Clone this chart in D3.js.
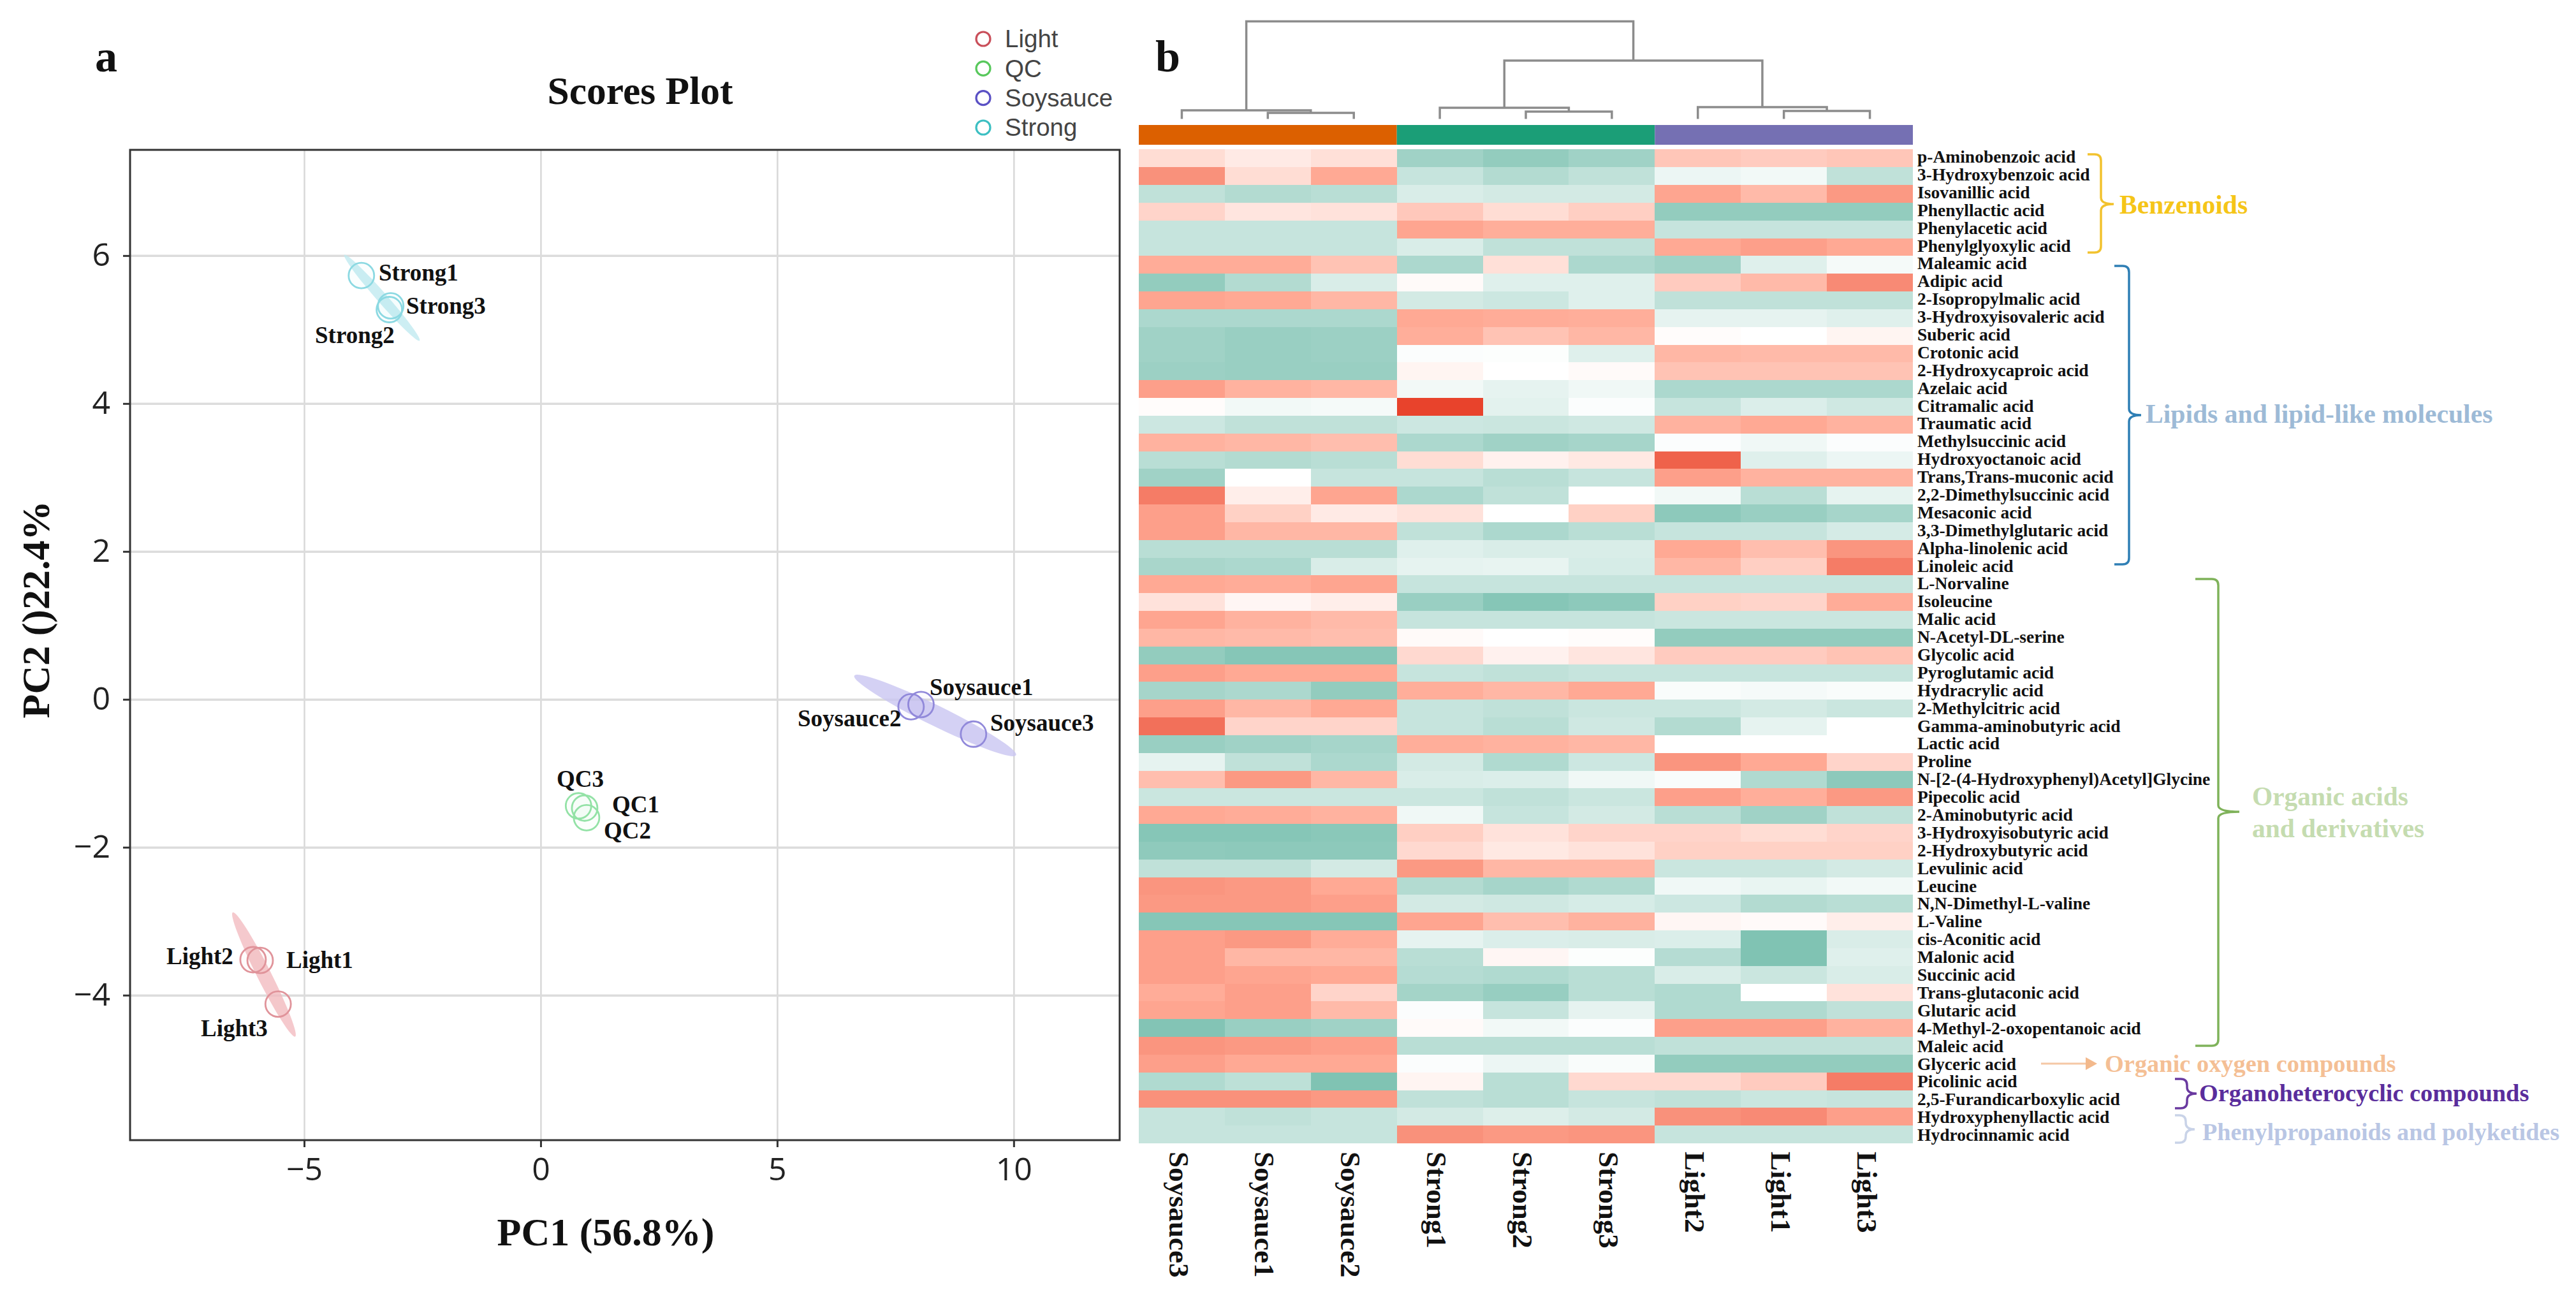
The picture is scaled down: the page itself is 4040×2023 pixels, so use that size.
<!DOCTYPE html>
<html>
  <head>
    <meta charset="utf-8">
    <style>
      body { margin: 0; background: #fff; }
      text { font-family: "Liberation Serif", serif; font-weight: bold; fill: #111; }
      .tick text { font-family: "Open Sans", sans-serif; font-weight: normal; font-size: 50px; fill: #222; }
      .legend text { font-family: "Liberation Sans", Arial, sans-serif; font-weight: normal; font-size: 38.5px; fill: #444; }
    </style>
  </head>
  <body>
    <script src="https://d3js.org/d3.v7.min.js"></script>
    <script>
      // ---- panel a data
      const groups = ['Light', 'QC', 'Soysauce', 'Strong'];
      const sampleNames = ['Light1', 'Light2', 'Light3', 'QC1', 'QC2', 'QC3', 'Soysauce1', 'Soysauce2', 'Soysauce3', 'Strong1', 'Strong2', 'Strong3'];
      const sampleGroups = ['Light', 'Light', 'Light', 'QC', 'QC', 'QC', 'Soysauce', 'Soysauce', 'Soysauce', 'Strong', 'Strong', 'Strong'];
      const pc1 = [-5.93, -6.08, -5.55, 0.93, 0.97, 0.80, 8.04, 7.83, 9.15, -3.79, -3.20, -3.17];
      const pc2 = [-3.53, -3.52, -4.12, -1.47, -1.60, -1.44, -0.07, -0.10, -0.47, 5.73, 5.27, 5.32];
      // long axis ends of the confidence ellipses
      const ellipseGroups = ['Light', 'Soysauce', 'Strong'];
      const ellipseX1 = [-6.51, 6.63, -4.15];
      const ellipseY1 = [-2.88, 0.32, 6.01];
      const ellipseX2 = [-5.19, 10.05, -2.56];
      const ellipseY2 = [-4.56, -0.755, 4.85];
      const xTicks = [-5, 0, 5, 10];
      const yTicks = [-4, -2, 0, 2, 4, 6];

      // ---- panel b data
      const columns = ['Soysauce3', 'Soysauce1', 'Soysauce2', 'Strong1', 'Strong2', 'Strong3', 'Light2', 'Light1', 'Light3'];
      const columnGroups = ['Soysauce', 'Strong', 'Light'];
      const metabolites = [
        'p-Aminobenzoic acid', '3-Hydroxybenzoic acid', 'Isovanillic acid', 'Phenyllactic acid', 'Phenylacetic acid',
        'Phenylglyoxylic acid', 'Maleamic acid', 'Adipic acid', '2-Isopropylmalic acid', '3-Hydroxyisovaleric acid',
        'Suberic acid', 'Crotonic acid', '2-Hydroxycaproic acid', 'Azelaic acid', 'Citramalic acid', 'Traumatic acid',
        'Methylsuccinic acid', 'Hydroxyoctanoic acid', 'Trans,Trans-muconic acid', '2,2-Dimethylsuccinic acid',
        'Mesaconic acid', '3,3-Dimethylglutaric acid', 'Alpha-linolenic acid', 'Linoleic acid', 'L-Norvaline',
        'Isoleucine', 'Malic acid', 'N-Acetyl-DL-serine', 'Glycolic acid', 'Pyroglutamic acid', 'Hydracrylic acid',
        '2-Methylcitric acid', 'Gamma-aminobutyric acid', 'Lactic acid', 'Proline',
        'N-[2-(4-Hydroxyphenyl)Acetyl]Glycine', 'Pipecolic acid', '2-Aminobutyric acid', '3-Hydroxyisobutyric acid',
        '2-Hydroxybutyric acid', 'Levulinic acid', 'Leucine', 'N,N-Dimethyl-L-valine', 'L-Valine', 'cis-Aconitic acid',
        'Malonic acid', 'Succinic acid', 'Trans-glutaconic acid', 'Glutaric acid', '4-Methyl-2-oxopentanoic acid',
        'Maleic acid', 'Glyceric acid', 'Picolinic acid', '2,5-Furandicarboxylic acid', 'Hydroxyphenyllactic acid',
        'Hydrocinnamic acid'
      ];
      // one row per metabolite, same order as columns
      const heat = [
        [.2, .12, .18, -.75, -.85, -.75, .33, .3, .33],
        [.62, .2, .5, -.45, -.6, -.5, -.15, -.1, -.5],
        [-.5, -.6, -.55, -.3, -.35, -.35, .52, .4, .58],
        [.25, .15, .17, .32, .2, .28, -.85, -.85, -.85],
        [-.45, -.45, -.45, .52, .47, .47, -.45, -.45, -.45],
        [-.45, -.45, -.45, -.3, -.5, -.5, .5, .55, .5],
        [.48, .48, .35, -.65, .18, -.65, -.75, -.25, -.08],
        [-.85, -.6, -.3, .03, -.25, -.25, .3, .4, .65],
        [.52, .5, .42, -.35, -.4, -.25, -.5, -.5, -.5],
        [-.65, -.65, -.65, .5, .48, .47, -.2, -.2, -.25],
        [-.75, -.8, -.78, .47, .35, .42, .02, 0, .06],
        [-.75, -.8, -.78, -.03, -.02, -.25, .42, .4, .4],
        [-.78, -.8, -.8, .06, 0, .03, .35, .35, .35],
        [.55, .45, .42, -.1, -.2, -.12, -.65, -.65, -.65],
        [.02, -.1, -.08, 1, -.22, -.03, -.45, -.28, -.38],
        [-.4, -.5, -.5, -.4, -.42, -.38, .45, .5, .45],
        [.45, .42, .38, -.65, -.75, -.7, -.03, -.12, -.03],
        [-.55, -.6, -.55, .2, .08, .13, .85, -.25, -.15],
        [-.75, 0, -.45, -.45, -.55, -.45, .55, .45, .45],
        [.72, .1, .52, -.65, -.5, 0, -.1, -.55, -.2],
        [.55, .27, .12, .17, 0, .27, -.9, -.8, -.7],
        [.55, .42, .42, -.5, -.65, -.55, -.45, -.45, -.33],
        [-.55, -.55, -.55, -.25, -.3, -.3, .5, .38, .6],
        [-.68, -.65, -.3, -.2, -.18, -.32, .42, .28, .72],
        [.5, .48, .52, -.45, -.45, -.45, -.45, -.45, -.45],
        [.17, .05, .1, -.8, -.95, -.9, .27, .25, .48],
        [.52, .45, .4, -.45, -.45, -.45, -.42, -.42, -.42],
        [.42, .4, .38, .03, 0, .02, -.85, -.85, -.85],
        [-.85, -.95, -.95, .22, .08, .15, .3, .3, .35],
        [.55, .5, .5, -.45, -.5, -.45, -.45, -.45, -.45],
        [-.7, -.65, -.85, .47, .42, .5, -.05, -.08, -.05],
        [.55, .42, .5, -.45, -.5, -.42, -.42, -.35, -.42],
        [.78, .25, .25, -.45, -.55, -.38, -.6, -.2, 0],
        [-.8, -.75, -.7, .47, .45, .42, 0, 0, 0],
        [-.2, -.5, -.65, -.35, -.62, -.4, .6, .5, .25],
        [.38, .58, .42, -.3, -.28, -.12, -.05, -.62, -.9],
        [-.42, -.42, -.42, -.42, -.5, -.42, .55, .47, .58],
        [.5, .48, .45, -.12, -.45, -.35, -.55, -.75, -.5],
        [-.95, -.95, -.92, .28, .17, .25, .25, .2, .25],
        [-.88, -.9, -.9, .22, .13, .17, .27, .27, .27],
        [-.5, -.5, -.35, .58, .42, .42, -.42, -.42, -.35],
        [.6, .58, .5, -.6, -.7, -.62, -.12, -.17, -.1],
        [.58, .58, .55, -.35, -.38, -.32, -.4, -.6, -.55],
        [-.95, -.95, -.95, .52, .38, .45, .05, .03, .1],
        [.55, .58, .48, -.2, -.28, -.3, -.28, -1, -.3],
        [.55, .42, .42, -.55, .05, -.02, -.58, -1, -.25],
        [.55, .52, .5, -.58, -.62, -.55, -.3, -.42, -.3],
        [.48, .55, .25, -.72, -.82, -.55, -.62, 0, .17],
        [.52, .55, .4, -.03, -.45, -.2, -.62, -.62, -.5],
        [-.98, -.8, -.75, .03, -.1, -.03, .55, .55, .45],
        [.6, .58, .55, -.55, -.55, -.55, -.5, -.5, -.5],
        [.55, .5, .5, -.03, -.15, -.05, -.85, -.85, -.85],
        [-.62, -.52, -1, .06, -.55, .22, .22, .3, .72],
        [.62, .62, .58, -.5, -.55, -.45, -.5, -.42, -.45],
        [-.45, -.5, -.45, -.35, -.27, -.35, .62, .65, .55],
        [-.45, -.45, -.45, .62, .58, .6, -.45, -.45, -.45]
      ];
      // dendrogram: merges with their distance, leaves by column name
      const tree = { d: 10, kids: [
        { d: .88, kids: ['Soysauce3', { d: .62, kids: ['Soysauce1', 'Soysauce2'] }] },
        { d: 5.98, kids: [
          { d: 1.14, kids: ['Strong1', { d: .75, kids: ['Strong2', 'Strong3'] }] },
          { d: 1.21, kids: ['Light2', { d: .82, kids: ['Light1', 'Light3'] }] }
        ] }
      ] };

      // ---- styles and layout
      const strokeColor = { Light: '#c94f5a', QC: '#58c85c', Soysauce: '#5a50c4', Strong: '#3cbfc2' };
      const pointColor = { Light: '#e0939a', QC: '#93e2a6', Soysauce: '#9189da', Strong: '#8cd9e2' };
      const ellipseColor = { Light: '#f3bcc0', Soysauce: '#c9c6f1', Strong: '#c0eaf0' };
      const ellipseHalf = { Light: 11, Soysauce: 16, Strong: 8 };
      const barColor = { Soysauce: '#dc6000', Strong: '#1b9e77', Light: '#7570b3' };
      const labelPos = {
        Strong1: [594, 428], Strong3: [637, 480], Strong2: [494, 526],
        Soysauce1: [1458, 1078], Soysauce2: [1251, 1127], Soysauce3: [1553, 1134],
        QC3: [873, 1222], QC1: [960, 1262], QC2: [947, 1303],
        Light2: [261, 1500], Light1: [449, 1506], Light3: [315, 1613]
      };

      const svg = d3.select('body').append('svg')
        .attr('width', 4040)
        .attr('height', 2023);

      // ---- panel a
      const plot = { left: 204, right: 1756, top: 235, bottom: 1788 };
      const x = d3.scaleLinear().domain([-8.68, 12.24]).range([plot.left, plot.right]);
      const y = d3.scaleLinear().domain([-5.96, 7.43]).range([plot.bottom, plot.top]);

      const gridX = svg.append('g')
        .attr('transform', `translate(0,${plot.bottom})`)
        .call(d3.axisBottom(x).tickValues(xTicks).tickSize(-(plot.bottom - plot.top)).tickFormat(''));
      const gridY = svg.append('g')
        .attr('transform', `translate(${plot.left},0)`)
        .call(d3.axisLeft(y).tickValues(yTicks).tickSize(-(plot.right - plot.left)).tickFormat(''));
      gridX.select('.domain').remove();
      gridY.select('.domain').remove();
      gridX.selectAll('line').attr('stroke', '#d8d8d8').attr('stroke-width', 2.5);
      gridY.selectAll('line').attr('stroke', '#dcdcdc').attr('stroke-width', 3.5);

      // long thin ellipses
      svg.append('g').selectAll('path')
        .data(ellipseGroups)
        .join('path')
        .attr('fill', d => ellipseColor[d])
        .attr('fill-opacity', 0.8)
        .attr('d', (d, i) => {
          const x1 = x(ellipseX1[i]), y1 = y(ellipseY1[i]), x2 = x(ellipseX2[i]), y2 = y(ellipseY2[i]);
          const rx = Math.hypot(x2 - x1, y2 - y1) / 2;
          const a = Math.atan2(y2 - y1, x2 - x1) * 180 / Math.PI;
          const ry = ellipseHalf[d];
          return `M${x1},${y1}A${rx},${ry} ${a} 1 1 ${x2},${y2}A${rx},${ry} ${a} 1 1 ${x1},${y1}Z`;
        });

      svg.append('g').selectAll('circle')
        .data(sampleNames)
        .join('circle')
        .attr('cx', (d, i) => x(pc1[i]))
        .attr('cy', (d, i) => y(pc2[i]))
        .attr('r', 20)
        .attr('fill', (d, i) => pointColor[sampleGroups[i]])
        .attr('fill-opacity', 0.04)
        .attr('stroke', (d, i) => pointColor[sampleGroups[i]])
        .attr('stroke-width', 2.8);

      svg.append('g').selectAll('text')
        .data(sampleNames)
        .join('text')
        .attr('x', d => labelPos[d][0])
        .attr('y', d => labelPos[d][1])
        .attr('dy', '.33em')
        .attr('font-size', 37)
        .text(d => d);

      svg.append('rect')
        .attr('x', plot.left)
        .attr('y', plot.top)
        .attr('width', plot.right - plot.left)
        .attr('height', plot.bottom - plot.top)
        .attr('fill', 'none')
        .attr('stroke', '#333')
        .attr('stroke-width', 3);

      const xAxis = svg.append('g')
        .attr('transform', `translate(0,${plot.bottom})`)
        .call(d3.axisBottom(x).tickValues(xTicks).tickSize(11).tickPadding(16));
      const yAxis = svg.append('g')
        .attr('transform', `translate(${plot.left},0)`)
        .call(d3.axisLeft(y).tickValues(yTicks).tickSize(11).tickPadding(20));
      xAxis.select('.domain').remove();
      yAxis.select('.domain').remove();
      xAxis.selectAll('line').attr('stroke', '#333').attr('stroke-width', 3);
      yAxis.selectAll('line').attr('stroke', '#333').attr('stroke-width', 3);

      svg.append('text').attr('x', 149).attr('y', 112).attr('font-size', 70).text('a');
      svg.append('text').attr('x', 1004).attr('y', 143).attr('dy', '.33em')
        .attr('text-anchor', 'middle').attr('font-size', 61.5).text('Scores Plot');
      svg.append('text').attr('x', 950).attr('y', 1933).attr('dy', '.33em')
        .attr('text-anchor', 'middle').attr('font-size', 62).text('PC1 (56.8%)');
      svg.append('text')
        .attr('transform', 'translate(57,956) rotate(-90)')
        .attr('dy', '.33em')
        .attr('text-anchor', 'middle')
        .attr('font-size', 62)
        .text('PC2 ()22.4%');

      const legendY = d3.scalePoint().domain(groups).range([61, 200]);
      const legend = svg.append('g').attr('class', 'legend')
        .selectAll('g')
        .data(groups)
        .join('g')
        .attr('transform', d => `translate(1542,${legendY(d)})`);
      legend.append('circle')
        .attr('r', 11)
        .attr('fill', 'none')
        .attr('stroke', d => strokeColor[d])
        .attr('stroke-width', 3.2);
      legend.append('text')
        .attr('x', 34)
        .attr('dy', '.35em')
        .text(d => d);

      // ---- panel b
      const heatLeft = 1786, heatRight = 3000, heatTop = 234.4, heatBottom = 1793;
      const cx = d3.scaleBand().domain(columns).range([heatLeft, heatRight]);
      const cy = d3.scaleBand().domain(metabolites).range([heatTop, heatBottom]);
      const labelY = d3.scalePoint().domain(metabolites).range([246, 1780]);
      const color = d3.scaleLinear()
        .domain([-1, 0, .5, 1])
        .range(['#80c3b3', '#ffffff', '#ffa994', '#e8432c']);

      const rows = svg.append('g').selectAll('g')
        .data(metabolites)
        .join('g');
      rows.selectAll('rect')
        .data((d, i) => heat[i].map((v, j) => ({ v, col: columns[j], row: d })))
        .join('rect')
        .attr('x', d => cx(d.col))
        .attr('y', d => cy(d.row))
        .attr('width', cx.bandwidth())
        .attr('height', cy.bandwidth())
        .attr('fill', d => color(d.v))
        .attr('shape-rendering', 'crispEdges');

      svg.append('g').selectAll('text')
        .data(metabolites)
        .join('text')
        .attr('x', heatRight + 7)
        .attr('y', d => labelY(d))
        .attr('dy', '.33em')
        .attr('font-size', 27.5)
        .text(d => d);

      svg.append('g').selectAll('text')
        .data(columns)
        .join('text')
        .attr('transform', d => `translate(${cx(d) + cx.bandwidth() / 2 - 5},1806) rotate(90)`)
        .attr('dy', '.33em')
        .attr('font-size', 45)
        .text(d => d);

      // annotation bar over the columns
      svg.append('g').selectAll('rect')
        .data(columnGroups)
        .join('rect')
        .attr('x', (d, i) => cx(columns[i * 3]))
        .attr('y', 196)
        .attr('width', cx.bandwidth() * 3)
        .attr('height', 31)
        .attr('fill', d => barColor[d]);

      // dendrogram
      const dist = d3.scaleLinear().domain([0, 10]).range([186.5, 33.5]);
      const dendro = d3.path();
      function drawTree(node) {
        if (typeof node === 'string') {
          return { x: cx(node) + cx.bandwidth() / 2, y: dist(0) };
        }
        const ends = node.kids.map(drawTree);
        const top = dist(node.d);
        dendro.moveTo(ends[0].x, ends[0].y);
        dendro.lineTo(ends[0].x, top);
        dendro.lineTo(ends[1].x, top);
        dendro.lineTo(ends[1].x, ends[1].y);
        return { x: (ends[0].x + ends[1].x) / 2, y: top };
      }
      drawTree(tree);
      svg.append('path')
        .attr('d', dendro.toString())
        .attr('fill', 'none')
        .attr('stroke', '#8c8c8c')
        .attr('stroke-width', 3.5);

      svg.append('text').attr('x', 1812).attr('y', 112).attr('font-size', 70).text('b');

      // class braces and their names
      function bracePath(x0, x1, tip, y0, y1, yTip) {
        const r = Math.min(10, (y1 - y0) / 4);
        return `M${x0},${y0}L${x1 - r},${y0}Q${x1},${y0} ${x1},${y0 + r}`
          + `L${x1},${yTip - r}Q${x1},${yTip} ${tip},${yTip}Q${x1},${yTip} ${x1},${yTip + r}`
          + `L${x1},${y1 - r}Q${x1},${y1} ${x1 - r},${y1}L${x0},${y1}`;
      }
      const braceColors = ['#f2c22e', '#2f7fb5', '#7fb25a', '#6a3aa0', '#c9d3e8'];
      const braceBoxes = [
        [3274, 3295, 3315, 242, 396, 320],
        [3316, 3339, 3358, 417, 885, 651],
        [3443, 3479, 3512, 908, 1640, 1273],
        [3411, 3430, 3445, 1692, 1738, 1715],
        [3411, 3428, 3442, 1749, 1792, 1771]
      ];
      svg.append('g').selectAll('path')
        .data(braceBoxes)
        .join('path')
        .attr('d', d => bracePath(...d))
        .attr('fill', 'none')
        .attr('stroke', (d, i) => braceColors[i])
        .attr('stroke-width', 3.5);

      const classNames = ['Benzenoids', 'Lipids and lipid-like molecules', 'Organic acids', 'and derivatives',
        'Organic oxygen compounds', 'Organoheterocyclic compounds', 'Phenylpropanoids and polyketides'];
      const classColors = ['#f5c518', '#9dbad6', '#c5dcb0', '#c5dcb0', '#f4bf95', '#5a2d9c', '#b9c6e4'];
      const classX = [3324, 3365, 3532, 3532, 3301, 3449, 3454];
      const classY = [321, 649, 1249, 1299, 1668, 1714, 1775];
      const classSize = [41.6, 41.6, 41.4, 41.4, 38.4, 38.3, 38.1];
      svg.append('g').selectAll('text')
        .data(classNames)
        .join('text')
        .attr('x', (d, i) => classX[i])
        .attr('y', (d, i) => classY[i])
        .attr('dy', '.33em')
        .attr('font-size', (d, i) => classSize[i])
        .style('fill', (d, i) => classColors[i])
        .text(d => d);

      // arrow to Organic oxygen compounds
      svg.append('line')
        .attr('x1', 3201).attr('x2', 3275)
        .attr('y1', 1668).attr('y2', 1668)
        .attr('stroke', '#f5c8a5')
        .attr('stroke-width', 3);
      svg.append('path')
        .attr('d', 'M3271,1658L3289,1668L3271,1678Z')
        .attr('fill', '#f3b98c');
    </script>
  </body>
</html>
